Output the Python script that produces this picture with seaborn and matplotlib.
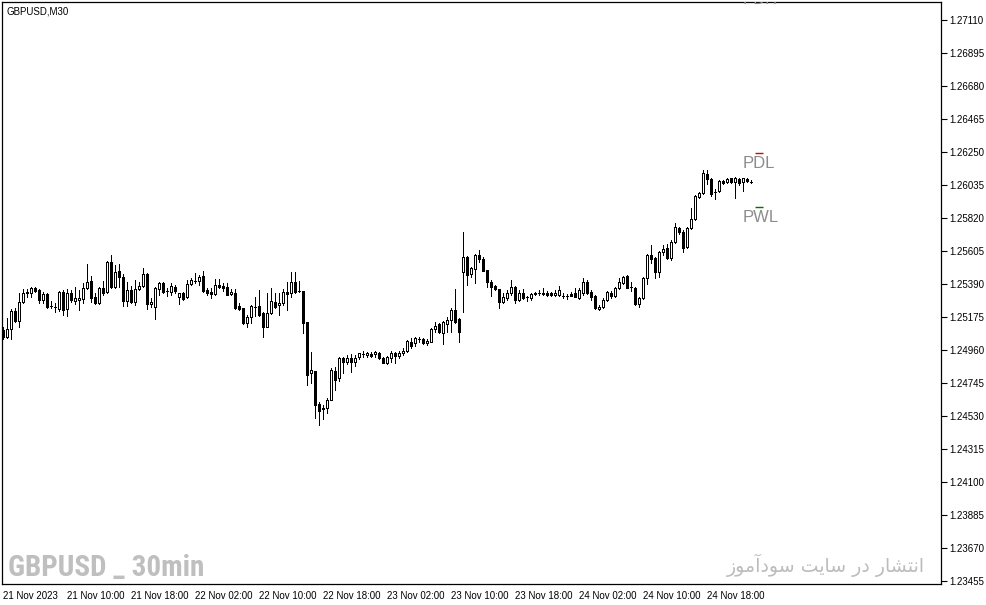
import matplotlib
matplotlib.use("Agg")
import matplotlib.pyplot as plt
from matplotlib import font_manager
import numpy as np
import pandas as pd
import seaborn as sns

# GBPUSD M30 bars, 21 Nov 02:00 -> 24 Nov 23:30
OPENS = [
    1.25089, 1.25044, 1.25096, 1.25213, 1.25148, 1.25272, 1.25330, 1.25330, 1.25363, 1.25350,
    1.25285, 1.25324, 1.25246, 1.25239, 1.25226, 1.25337, 1.25226, 1.25330, 1.25278, 1.25285,
    1.25291, 1.25363, 1.25409, 1.25304, 1.25265, 1.25363, 1.25337, 1.25533, 1.25370, 1.25474,
    1.25435, 1.25278, 1.25350, 1.25272, 1.25357, 1.25376, 1.25454, 1.25259, 1.25239, 1.25357,
    1.25396, 1.25343, 1.25337, 1.25370, 1.25304, 1.25330, 1.25304, 1.25389, 1.25409, 1.25409,
    1.25441, 1.25350, 1.25337, 1.25324, 1.25383, 1.25376, 1.25370, 1.25324, 1.25330, 1.25246,
    1.25233, 1.25135, 1.25174, 1.25239, 1.25246, 1.25200, 1.25109, 1.25200, 1.25272, 1.25252,
    1.25265, 1.25337, 1.25330, 1.25402, 1.25343, 1.25343, 1.25141, 1.24809, 1.24822, 1.24607,
    1.24581, 1.24581, 1.24633, 1.24822, 1.24776, 1.24907, 1.24881, 1.24907, 1.24881, 1.24913,
    1.24933, 1.24926, 1.24933, 1.24933, 1.24939, 1.24907, 1.24874, 1.24907, 1.24939, 1.24920,
    1.24939, 1.24952, 1.25011, 1.25004, 1.25031, 1.25031, 1.25004, 1.25011, 1.25096, 1.25128,
    1.25070, 1.25128, 1.25155, 1.25220, 1.25161, 1.25467, 1.25565, 1.25454, 1.25487, 1.25578,
    1.25552, 1.25480, 1.25402, 1.25376, 1.25357, 1.25272, 1.25298, 1.25330, 1.25370, 1.25285,
    1.25330, 1.25304, 1.25298, 1.25330, 1.25330, 1.25330, 1.25330, 1.25330, 1.25317, 1.25317,
    1.25311, 1.25311, 1.25324, 1.25330, 1.25298, 1.25330, 1.25402, 1.25337, 1.25311, 1.25226,
    1.25239, 1.25285, 1.25330, 1.25311, 1.25363, 1.25396, 1.25441, 1.25370, 1.25363, 1.25259,
    1.25298, 1.25428, 1.25578, 1.25559, 1.25467, 1.25598, 1.25624, 1.25559, 1.25663, 1.25754,
    1.25728, 1.25630, 1.25754, 1.25813, 1.25956, 1.25982, 1.26106, 1.26074, 1.25989, 1.25995,
    1.26061, 1.26054, 1.26080, 1.26054, 1.26074, 1.26054, 1.26074, 1.26054,
]
HIGHS = [
    1.25109, 1.25168, 1.25226, 1.25233, 1.25330, 1.25357, 1.25357, 1.25370, 1.25370, 1.25357,
    1.25337, 1.25330, 1.25278, 1.25265, 1.25343, 1.25350, 1.25357, 1.25350, 1.25370, 1.25350,
    1.25396, 1.25520, 1.25441, 1.25330, 1.25370, 1.25409, 1.25539, 1.25578, 1.25513, 1.25520,
    1.25454, 1.25402, 1.25376, 1.25415, 1.25402, 1.25493, 1.25461, 1.25298, 1.25370, 1.25402,
    1.25402, 1.25363, 1.25396, 1.25383, 1.25330, 1.25337, 1.25415, 1.25428, 1.25461, 1.25448,
    1.25474, 1.25363, 1.25363, 1.25422, 1.25422, 1.25396, 1.25396, 1.25357, 1.25357, 1.25265,
    1.25233, 1.25187, 1.25252, 1.25304, 1.25350, 1.25207, 1.25330, 1.25363, 1.25330, 1.25330,
    1.25357, 1.25402, 1.25467, 1.25467, 1.25409, 1.25343, 1.25141, 1.24946, 1.24822, 1.24620,
    1.24600, 1.24646, 1.24841, 1.24848, 1.24913, 1.24913, 1.24926, 1.24933, 1.24926, 1.24939,
    1.24952, 1.24946, 1.24946, 1.24952, 1.24946, 1.24913, 1.24920, 1.24952, 1.24946, 1.24952,
    1.24972, 1.25024, 1.25037, 1.25044, 1.25044, 1.25037, 1.25031, 1.25102, 1.25141, 1.25135,
    1.25148, 1.25174, 1.25233, 1.25357, 1.25168, 1.25728, 1.25572, 1.25500, 1.25585, 1.25611,
    1.25565, 1.25480, 1.25415, 1.25383, 1.25357, 1.25330, 1.25350, 1.25415, 1.25376, 1.25350,
    1.25357, 1.25311, 1.25330, 1.25337, 1.25350, 1.25363, 1.25343, 1.25337, 1.25350, 1.25376,
    1.25330, 1.25324, 1.25337, 1.25363, 1.25363, 1.25428, 1.25415, 1.25350, 1.25317, 1.25252,
    1.25298, 1.25343, 1.25343, 1.25370, 1.25428, 1.25441, 1.25448, 1.25402, 1.25370, 1.25304,
    1.25435, 1.25585, 1.25643, 1.25565, 1.25604, 1.25643, 1.25650, 1.25676, 1.25787, 1.25761,
    1.25741, 1.25761, 1.25885, 1.25969, 1.25989, 1.26132, 1.26132, 1.26080, 1.26009, 1.26067,
    1.26067, 1.26080, 1.26080, 1.26087, 1.26080, 1.26080, 1.26080, 1.26067,
]
LOWS = [
    1.25031, 1.25037, 1.25031, 1.25141, 1.25109, 1.25265, 1.25304, 1.25304, 1.25337, 1.25265,
    1.25265, 1.25233, 1.25233, 1.25207, 1.25213, 1.25187, 1.25181, 1.25272, 1.25259, 1.25220,
    1.25265, 1.25357, 1.25272, 1.25259, 1.25259, 1.25317, 1.25330, 1.25363, 1.25363, 1.25370,
    1.25246, 1.25246, 1.25265, 1.25252, 1.25350, 1.25370, 1.25226, 1.25239, 1.25161, 1.25317,
    1.25330, 1.25311, 1.25317, 1.25330, 1.25259, 1.25285, 1.25298, 1.25383, 1.25396, 1.25383,
    1.25337, 1.25317, 1.25298, 1.25317, 1.25363, 1.25343, 1.25317, 1.25317, 1.25226, 1.25220,
    1.25128, 1.25109, 1.25135, 1.25181, 1.25181, 1.25044, 1.25109, 1.25194, 1.25233, 1.25187,
    1.25252, 1.25220, 1.25304, 1.25330, 1.25337, 1.25070, 1.24731, 1.24744, 1.24516, 1.24470,
    1.24509, 1.24548, 1.24633, 1.24698, 1.24757, 1.24809, 1.24868, 1.24815, 1.24855, 1.24900,
    1.24913, 1.24913, 1.24913, 1.24913, 1.24900, 1.24874, 1.24868, 1.24881, 1.24874, 1.24907,
    1.24926, 1.24946, 1.24972, 1.24985, 1.25011, 1.24998, 1.24991, 1.25011, 1.25076, 1.25070,
    1.24998, 1.25076, 1.25076, 1.25135, 1.25011, 1.25207, 1.25383, 1.25435, 1.25396, 1.25533,
    1.25474, 1.25370, 1.25311, 1.25350, 1.25233, 1.25265, 1.25285, 1.25317, 1.25265, 1.25278,
    1.25291, 1.25278, 1.25285, 1.25317, 1.25317, 1.25317, 1.25311, 1.25311, 1.25311, 1.25311,
    1.25298, 1.25291, 1.25311, 1.25304, 1.25291, 1.25317, 1.25324, 1.25285, 1.25226, 1.25220,
    1.25233, 1.25278, 1.25298, 1.25304, 1.25357, 1.25389, 1.25363, 1.25343, 1.25252, 1.25239,
    1.25291, 1.25389, 1.25526, 1.25428, 1.25435, 1.25578, 1.25552, 1.25546, 1.25656, 1.25715,
    1.25598, 1.25624, 1.25748, 1.25806, 1.25950, 1.25976, 1.26041, 1.25963, 1.25943, 1.25989,
    1.26041, 1.26048, 1.26048, 1.25950, 1.26035, 1.25995, 1.26054, 1.26048,
]
CLOSES = [
    1.25044, 1.25096, 1.25213, 1.25148, 1.25272, 1.25330, 1.25337, 1.25363, 1.25343, 1.25285,
    1.25324, 1.25239, 1.25246, 1.25239, 1.25337, 1.25220, 1.25330, 1.25285, 1.25298, 1.25298,
    1.25363, 1.25402, 1.25298, 1.25265, 1.25363, 1.25330, 1.25533, 1.25370, 1.25467, 1.25435,
    1.25278, 1.25350, 1.25272, 1.25357, 1.25376, 1.25454, 1.25259, 1.25272, 1.25363, 1.25396,
    1.25337, 1.25343, 1.25376, 1.25343, 1.25330, 1.25291, 1.25389, 1.25415, 1.25409, 1.25435,
    1.25343, 1.25330, 1.25324, 1.25383, 1.25370, 1.25363, 1.25317, 1.25337, 1.25233, 1.25226,
    1.25135, 1.25174, 1.25246, 1.25239, 1.25187, 1.25109, 1.25200, 1.25278, 1.25239, 1.25265,
    1.25337, 1.25324, 1.25402, 1.25337, 1.25343, 1.25135, 1.24796, 1.24828, 1.24600, 1.24561,
    1.24574, 1.24633, 1.24828, 1.24763, 1.24907, 1.24881, 1.24907, 1.24881, 1.24907, 1.24939,
    1.24933, 1.24939, 1.24920, 1.24946, 1.24907, 1.24874, 1.24913, 1.24939, 1.24920, 1.24939,
    1.24952, 1.25018, 1.24985, 1.25037, 1.25031, 1.25004, 1.25018, 1.25096, 1.25115, 1.25076,
    1.25141, 1.25155, 1.25220, 1.25141, 1.25076, 1.25565, 1.25448, 1.25493, 1.25578, 1.25552,
    1.25474, 1.25402, 1.25370, 1.25357, 1.25272, 1.25304, 1.25330, 1.25370, 1.25285, 1.25330,
    1.25298, 1.25304, 1.25324, 1.25324, 1.25330, 1.25324, 1.25317, 1.25317, 1.25330, 1.25350,
    1.25311, 1.25311, 1.25311, 1.25304, 1.25350, 1.25402, 1.25330, 1.25304, 1.25233, 1.25239,
    1.25285, 1.25337, 1.25311, 1.25363, 1.25402, 1.25435, 1.25363, 1.25370, 1.25259, 1.25298,
    1.25428, 1.25578, 1.25552, 1.25467, 1.25598, 1.25617, 1.25559, 1.25663, 1.25761, 1.25728,
    1.25624, 1.25754, 1.25813, 1.25963, 1.25982, 1.26113, 1.26074, 1.25976, 1.25989, 1.26061,
    1.26048, 1.26074, 1.26054, 1.26080, 1.26048, 1.26080, 1.26061, 1.26054,
]

PRICE_TICKS = [1.23455, 1.23670, 1.23885, 1.24100, 1.24315, 1.24530, 1.24745, 1.24960, 1.25175,
               1.25390, 1.25605, 1.25820, 1.26035, 1.26250, 1.26465, 1.26680, 1.26895, 1.27110]
TIME_LABELS = ["21 Nov 2023", "21 Nov 10:00", "21 Nov 18:00", "22 Nov 02:00", "22 Nov 10:00",
               "22 Nov 18:00", "23 Nov 02:00", "23 Nov 10:00", "23 Nov 18:00", "24 Nov 02:00",
               "24 Nov 10:00", "24 Nov 18:00"]
BARS_PER_LABEL = 16

# level markers drawn by the indicator
PDL_LEVEL = 1.26243
PWL_LEVEL = 1.25891

TITLE = "GBPUSD,M30"
WATERMARK_EN = "GBPUSD _ 30min"
WATERMARK_FA = "انتشار در سایت سودآموز"

# (isolated, final, initial, medial) presentation forms; None = letter does not join forward
FORMS = {
    'ا': (0xFE8D, 0xFE8E, None, None), 'آ': (0xFE81, 0xFE82, None, None),
    'د': (0xFEA9, 0xFEAA, None, None), 'ر': (0xFEAD, 0xFEAE, None, None),
    'ز': (0xFEAF, 0xFEB0, None, None), 'و': (0xFEED, 0xFEEE, None, None),
    'ن': (0xFEE5, 0xFEE6, 0xFEE7, 0xFEE8), 'ت': (0xFE95, 0xFE96, 0xFE97, 0xFE98),
    'ش': (0xFEB5, 0xFEB6, 0xFEB7, 0xFEB8), 'س': (0xFEB1, 0xFEB2, 0xFEB3, 0xFEB4),
    'ی': (0xFEEF, 0xFEF0, 0xFEF3, 0xFEF4), 'م': (0xFEE1, 0xFEE2, 0xFEE3, 0xFEE4),
}


def shape_persian(text):
    """Join letters into presentation forms and reverse to visual order (no bidi in matplotlib)."""
    words = []
    for word in text.split(' '):
        chars = []
        for i, ch in enumerate(word):
            iso, fin, ini, med = FORMS[ch]
            prev_joins = i > 0 and FORMS[word[i - 1]][2] is not None
            next_joins = i < len(word) - 1 and ini is not None
            if prev_joins and next_joins:
                cp = med
            elif prev_joins:
                cp = fin
            elif next_joins:
                cp = ini
            else:
                cp = iso
            chars.append(chr(cp))
        words.append(''.join(chars))
    return ' '.join(words)[::-1]


def fit_width(fig, txt, width_px):
    """Scale a text's font size so it spans width_px pixels."""
    r = fig.canvas.get_renderer()
    w = txt.get_window_extent(renderer=r).width
    txt.set_fontsize(txt.get_fontsize() * width_px / w)


sns.set_style("white")
plt.rcParams['font.family'] = ['Liberation Sans', 'DejaVu Sans']

installed = {f.name for f in font_manager.fontManager.ttflist}
narrow_font = next((n for n in ['Liberation Sans Narrow', 'Roboto Condensed', 'DejaVu Sans Condensed',
                                'Roboto', 'Liberation Sans'] if n in installed), 'DejaVu Sans')

df = pd.DataFrame({'open': OPENS, 'high': HIGHS, 'low': LOWS, 'close': CLOSES})
df['bar'] = np.arange(len(df))
df['fill'] = np.where(df['close'] > df['open'], 'white', 'black')

fig = plt.figure(figsize=(9.87, 6.05), dpi=100)
ax = fig.add_axes([2 / 987, 21 / 605, 939 / 987, 582 / 605])

ax.vlines(df['bar'], df['low'], df['high'], color='black', linewidth=0.7, zorder=2, antialiased=False)
ax.bar(df['bar'], df['close'] - df['open'], bottom=df['open'], width=0.62, color=df['fill'],
       edgecolor='black', linewidth=0.6, zorder=3, antialiased=False)

ax.set_xlim(-0.25, 234.5)
ax.set_ylim(1.23433, 1.27228)

ax.yaxis.tick_right()
ax.set_yticks(PRICE_TICKS, [f'{p:.5f}' for p in PRICE_TICKS])
ax.set_xticks(list(range(0, BARS_PER_LABEL * len(TIME_LABELS), BARS_PER_LABEL)), TIME_LABELS)
for lab in ax.get_xticklabels():
    lab.set_ha('left')
ax.tick_params(axis='both', direction='out', length=4, width=0.8, labelsize=7, colors='black', pad=2)
ax.tick_params(axis='x', pad=1)
for s in ax.spines.values():
    s.set_color('black')
    s.set_linewidth(0.9)
ax.grid(False)

# indicator labels
label_kw = dict(color='#8c8c8c', fontsize=12, ha='left', va='baseline', clip_on=True, zorder=4)
ax.text(185, 1.27215, 'PDH', **label_kw)
ax.text(185, 1.26145, 'PDL', **label_kw)
ax.text(185, 1.25793, 'PWL', **label_kw)
ax.hlines(PDL_LEVEL, 188, 190, color='#e00000', linewidth=1.0)
ax.hlines(PWL_LEVEL, 188, 190, color='#007000', linewidth=1.0)

ax.text(0.0043, 0.9845, TITLE, transform=ax.transAxes, fontsize=7, color='black', va='center', ha='left')
wm_en = ax.text(0.0064, 0.0137, WATERMARK_EN, transform=ax.transAxes, fontsize=21, fontweight='bold',
                fontstretch='condensed', color='#bfbfbf', va='baseline', ha='left',
                family=[narrow_font, 'DejaVu Sans'])
wm_fa = ax.text(0.983, 0.0326, shape_persian(WATERMARK_FA), transform=ax.transAxes, fontsize=15,
                color='#bcbcbc', va='center', ha='right', family=['DejaVu Sans'])
fit_width(fig, wm_en, 196)
fit_width(fig, wm_fa, 198)

fig.savefig('out.png', dpi=100)
